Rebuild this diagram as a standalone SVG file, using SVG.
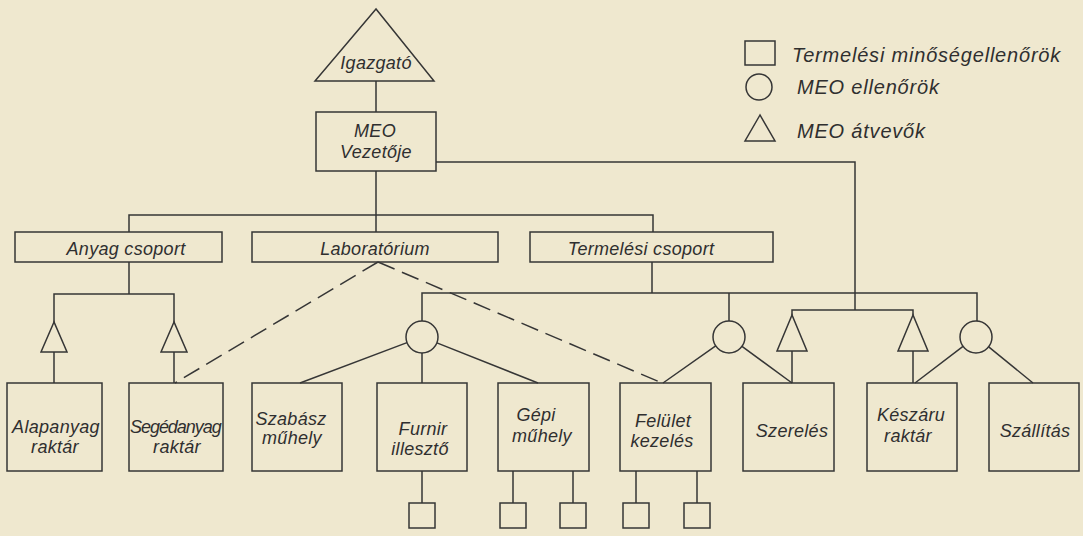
<svg xmlns="http://www.w3.org/2000/svg" width="1083" height="536" viewBox="0 0 1083 536">
<style>
.s{fill:none;stroke:#363636;stroke-width:1.5}
.d{fill:none;stroke:#363636;stroke-width:1.5;stroke-dasharray:18 8}
text{font-family:"Liberation Sans",Arial,sans-serif;font-style:italic;font-size:18px;letter-spacing:0.3px;fill:#2f2f2f;text-anchor:middle}
.l{text-anchor:start;font-size:20px;letter-spacing:0.8px}
</style>
<rect width="1083" height="536" fill="#efe8cf"/>
<g id="connectors">
<path class="s" d="M376,81 V112 M376,171 V232 M129,232 V215 H653 V232"/>
<path class="s" d="M129,262 V294 M54,322 V294 H174 V322 M54,352 V383 M174,352 V383"/>
<path class="s" d="M436,162 H855 V310 M792,315 V310 H913 V315 M792,351 V383 M913,351 V383"/>
<path class="s" d="M652,262 V293 M422,321 V293 H977 V321 M729,293 V321"/>
<path class="s" d="M407,342.6 L300,383 M436.9,342.9 L538,383 M422,353 V383"/>
<path class="s" d="M715.7,345.9 L663,383 M742,346.4 L792,383 M963,346.4 L915,383 M988.7,346.8 L1033,383"/>
<path class="d" d="M378,262 L175,383 M378,262 L662,383"/>
<path class="s" d="M422,471 V503 M513,471 V503 M573,471 V503 M636,471 V503 M697,471 V503"/>
</g>
<g id="legend">
<rect class="s" x="745" y="41" width="30" height="24"/>
<text class="l" x="792" y="62">Termelési minőségellenőrök</text>
<circle class="s" cx="759" cy="87" r="13"/>
<text class="l" x="797" y="94">MEO ellenőrök</text>
<polygon class="s" points="760,115 745,141 775,141"/>
<text class="l" x="797" y="138">MEO átvevők</text>
</g>
<g id="igazgato"><polygon class="s" points="376,9 315,81 434,81"/><text x="376" y="69">Igazgató</text></g>
<g id="meo"><rect class="s" x="316" y="112" width="120" height="59"/><text x="375" y="137">MEO</text><text x="376" y="158">Vezetője</text></g>
<g id="anyag"><rect class="s" x="15" y="232" width="207" height="30"/><text x="126" y="255">Anyag csoport</text></g>
<g id="labor"><rect class="s" x="252" y="232" width="246" height="30"/><text x="375" y="255">Laboratórium</text></g>
<g id="termelesi"><rect class="s" x="530" y="232" width="243" height="30"/><text x="641" y="255">Termelési csoport</text></g>
<g id="atvevo1"><polygon class="s" points="54,322 41,352 67,352"/></g>
<g id="atvevo2"><polygon class="s" points="174,322 161,352 187,352"/></g>
<g id="atvevo3"><polygon class="s" points="792,315 777,351 807,351"/></g>
<g id="atvevo4"><polygon class="s" points="913,315 898,351 928,351"/></g>
<g id="ellenor1"><circle class="s" cx="422" cy="337" r="16"/></g>
<g id="ellenor2"><circle class="s" cx="729" cy="337" r="16"/></g>
<g id="ellenor3"><circle class="s" cx="976" cy="337" r="16"/></g>
<g id="alapanyag"><rect class="s" x="7" y="383" width="95" height="88"/><text x="56" y="433">Alapanyag</text><text x="55" y="453">raktár</text></g>
<g id="segedanyag"><rect class="s" x="129" y="383" width="94" height="88"/><text x="176" y="433" textLength="92">Segédanyag</text><text x="177" y="453">raktár</text></g>
<g id="szabasz"><rect class="s" x="252" y="383" width="90" height="88"/><text x="291" y="425">Szabász</text><text x="292" y="444">műhely</text></g>
<g id="furnir"><rect class="s" x="377" y="383" width="90" height="88"/><text x="423" y="435">Furnir</text><text x="420" y="455">illesztő</text></g>
<g id="gepi"><rect class="s" x="498" y="383" width="91" height="88"/><text x="536" y="421">Gépi</text><text x="542" y="442">műhely</text></g>
<g id="felulet"><rect class="s" x="620" y="383" width="91" height="88"/><text x="663" y="427">Felület</text><text x="662" y="447">kezelés</text></g>
<g id="szereles"><rect class="s" x="743" y="383" width="91" height="88"/><text x="792" y="437">Szerelés</text></g>
<g id="keszaru"><rect class="s" x="867" y="383" width="90" height="88"/><text x="911" y="421">Készáru</text><text x="908" y="442">raktár</text></g>
<g id="szallitas"><rect class="s" x="989" y="383" width="90" height="88"/><text x="1035" y="437">Szállítás</text></g>
<g id="mi1"><rect class="s" x="409" y="503" width="26" height="25"/></g>
<g id="mi2"><rect class="s" x="500" y="503" width="26" height="25"/></g>
<g id="mi3"><rect class="s" x="560" y="503" width="26" height="25"/></g>
<g id="mi4"><rect class="s" x="623" y="503" width="26" height="25"/></g>
<g id="mi5"><rect class="s" x="684" y="503" width="26" height="25"/></g>
</svg>
